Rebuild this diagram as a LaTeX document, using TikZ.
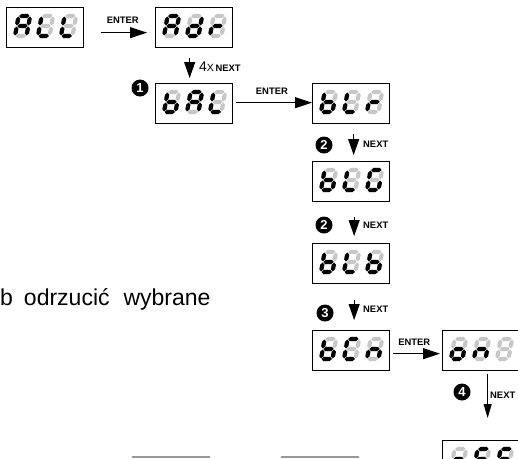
\documentclass[tikz,border=0pt]{standalone}
\usepackage{fontspec}
\setmainfont{Liberation Sans}
\usetikzlibrary{arrows.meta}
\definecolor{segoff}{gray}{0.78}
\newcommand\sh{2.1}
\newcommand\hseg[4]{\fill[#4] (#1,#3) -- ({#1+\sh},{#3+\sh}) -- ({#2-\sh},{#3+\sh}) -- (#2,#3) -- ({#2-\sh},{#3-\sh}) -- ({#1+\sh},{#3-\sh}) -- cycle;}
\newcommand\vseg[4]{\fill[#4] (#1,#2) -- ({#1+\sh},{#2+\sh}) -- ({#1+\sh},{#3-\sh}) -- (#1,#3) -- ({#1-\sh},{#3-\sh}) -- ({#1-\sh},{#2+\sh}) -- cycle;}
\newcommand\SGa[1]{\hseg{0.6}{10.9}{20}{#1}}
\newcommand\SGb[1]{\vseg{11.5}{10.6}{19.4}{#1}}
\newcommand\SGc[1]{\vseg{11.5}{0.6}{9.4}{#1}}
\newcommand\SGd[1]{\hseg{0.6}{10.9}{0}{#1}}
\newcommand\SGe[1]{\vseg{0}{0.6}{9.4}{#1}}
\newcommand\SGf[1]{\vseg{0}{10.6}{19.4}{#1}}
\newcommand\SGg[1]{\hseg{0.6}{10.9}{10}{#1}}
\newcommand\SGz[1]{}
\newcommand\dg[3]{\begin{scope}[shift={({#1},{#2})},xslant=0.18,x=1pt,y=1pt]
\foreach \s in {a,b,c,d,e,f,g}{\csname SG\s\endcsname{segoff}}
\foreach \s in {#3}{\csname SG\s\endcsname{black}}
\end{scope}}
\newcommand\disp[6]{%
\node[dispbox] (#1) at (#2,#3) {};
\dg{#2+9}{#3+29}{#4}
\dg{#2+32}{#3+29}{#5}
\dg{#2+55}{#3+29}{#6}}
\tikzset{
 dispbox/.style={draw, line width=1.3pt, minimum width=77pt, minimum height=40pt, inner sep=0pt, anchor=north west},
 enterarr/.style={line width=1pt, -{Triangle[length=17pt,width=11pt]}},
 nextarr/.style={line width=1pt, -{Triangle[length=16pt,width=11pt]}},
 thinarr/.style={line width=0.8pt, -{Triangle[length=14pt,width=8pt]}},
 lbl/.style={font=\bfseries\fontsize{9.4}{10}\selectfont, inner sep=0pt},
 num/.style={circle, fill=black, text=white, minimum size=17pt, inner sep=0pt, font=\bfseries\fontsize{13}{13}\selectfont},
 rule/.style={draw=black!40, line width=1.2pt},
}
\begin{document}
\begin{tikzpicture}[x=1pt,y=-1pt]
\useasboundingbox (0,0) rectangle (518,458);
\clip (0,0) rectangle (518,458);
% displays
\disp{ALL}{6}{7}{a,b,c,e,f,g}{d,e,f}{d,e,f}
\disp{Adr}{155}{7}{a,b,c,e,f,g}{b,c,d,e,g}{e,g}
\disp{bAL}{155}{83}{c,d,e,f,g}{a,b,c,e,f,g}{d,e,f}
\disp{bLr}{312}{83}{c,d,e,f,g}{d,e,f}{e,g}
\disp{bLG}{312}{161}{c,d,e,f,g}{d,e,f}{a,c,d,e,f}
\disp{bLb}{312}{243}{c,d,e,f,g}{d,e,f}{c,d,e,f,g}
\disp{bCn}{312}{330}{c,d,e,f,g}{a,d,e,f}{c,e,g}
\disp{on}{442}{330}{c,d,e,g}{c,e,g}{z}
\disp{off}{442}{440}{c,d,e,g}{a,e,f,g}{a,e,f,g}
% ENTER arrows
\draw[enterarr] ([xshift=17pt,yshift=-5pt]ALL.east) -- ([xshift=-8pt,yshift=-5pt]Adr.west)
  node[lbl, pos=0.47, yshift=12pt] (e1) {ENTER};
\draw[enterarr] ([xshift=3pt,yshift=1pt]bAL.east) -- ([yshift=1pt]bLr.west)
  node[lbl, pos=0.47, yshift=11pt] (e2) {ENTER};
\draw[enterarr] ([xshift=3pt,yshift=-3pt]bCn.east) -- ([xshift=-2pt,yshift=-3pt]on.west)
  node[lbl, pos=0.45, yshift=11pt] (e3) {ENTER};
% NEXT arrows
\draw[nextarr] ([xshift=-4.5pt,yshift=-10pt]Adr.south) -- ([xshift=-4.5pt,yshift=5pt]bAL.north);
\node[anchor=base west, inner sep=0pt] (n0) at (199,71) {{\fontsize{14}{14}\selectfont 4}{\fontsize{10.5}{11}\selectfont X}\,{\bfseries\fontsize{9.4}{10}\selectfont NEXT}};
\draw[nextarr] ([xshift=2.5pt,yshift=-10pt]bLr.south) -- ([xshift=2.5pt,yshift=6pt]bLG.north);
\node[lbl, anchor=west] (n1) at (363,144) {NEXT};
\draw[nextarr] ([xshift=3pt,yshift=-15pt]bLG.south) -- ([xshift=3pt,yshift=7pt]bLb.north);
\node[lbl, anchor=west] (n2) at (363,225) {NEXT};
\draw[nextarr] ([xshift=3pt,yshift=-16pt]bLb.south) -- ([xshift=3pt,yshift=10pt]bCn.north);
\node[lbl, anchor=west] (n3) at (363,309) {NEXT};
\draw[thinarr] ([xshift=6.5pt,yshift=-3pt]on.south) -- ([xshift=6.5pt,yshift=22pt]off.north);
\node[lbl, anchor=west] (n4) at (490,395) {NEXT};
% numbered circles
\node[num] (c1) at (140,88) {1};
\node[num] (c2) at (324,145) {2};
\node[num] (c3) at (324,225) {2};
\node[num] (c4) at (325,313) {3};
\node[num] (c5) at (462,392) {4};
% text
\node[anchor=base west, inner sep=0pt, font=\fontsize{23}{26}\selectfont] (txt) at (0,305) {b\hspace{11pt}odrzucić\hspace{14pt}wybrane};
% bottom rules
\draw[rule] (132,457) -- (210,457);
\draw[rule] (281,457) -- (359,457);
\end{tikzpicture}
\end{document}
